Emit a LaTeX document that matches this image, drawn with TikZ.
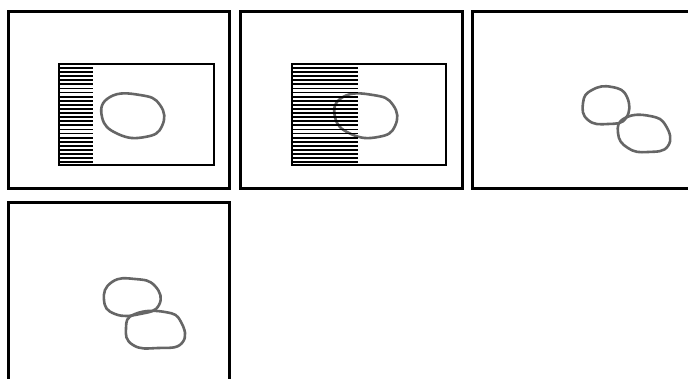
\documentclass[tikz,border=0pt]{standalone}
\begin{document}
\begin{tikzpicture}[x=1pt,y=-1pt,
  frame/.style={draw=black,line width=3pt},
  inner/.style={draw=black,line width=1.5pt},
  hatch/.style={draw=black,line width=1.8pt},
  blob/.style={draw=black!60,line width=2.6pt,line join=round}]
\clip (0,0) rectangle (688,379);
\fill[white] (0,0) rectangle (688,379);
% frames
\draw[frame] (8,12) rectangle (229,189);
\draw[frame] (240,12) rectangle (462,189);
\draw[frame] (472,12) rectangle (692,189);
\draw[frame] (8,203) rectangle (229,385);
% panel 1
\draw[blob] plot[smooth cycle,tension=0.85] coordinates {(110,97) (140,95) (160,105) (162,126) (145,137) (118,134) (102,117)};
\foreach \i in {0,...,23} \draw[hatch] (59,{68+\i*4.1}) -- (93,{68+\i*4.1});
\draw[inner] (59,64) rectangle (214,165);
% panel 2
\draw[blob] plot[smooth cycle,tension=0.85] coordinates {(343,97) (373,95) (393,105) (395,126) (378,137) (351,134) (335,117)};
\foreach \i in {0,...,23} \draw[hatch] (292,{68+\i*4.1}) -- (358,{68+\i*4.1});
\draw[inner] (292,64) rectangle (446,165);
% panel 3
\draw[blob] plot[smooth cycle,tension=0.85] coordinates {(592,90) (612,87) (627,97) (626,118) (608,124) (588,120) (583,103)};
\draw[blob] plot[smooth cycle,tension=0.85] coordinates {(625,118) (650,116) (666,126) (668,146) (648,152) (628,148) (618,133)};
% panel 4
\draw[blob] plot[smooth cycle,tension=0.85] coordinates {(112,282) (135,279) (155,286) (159,305) (140,314) (115,314) (104,300)};
\draw[blob] plot[smooth cycle,tension=0.85] coordinates {(135,314) (165,312) (181,322) (182,343) (158,348) (133,345) (126,328)};
\end{tikzpicture}
\end{document}
